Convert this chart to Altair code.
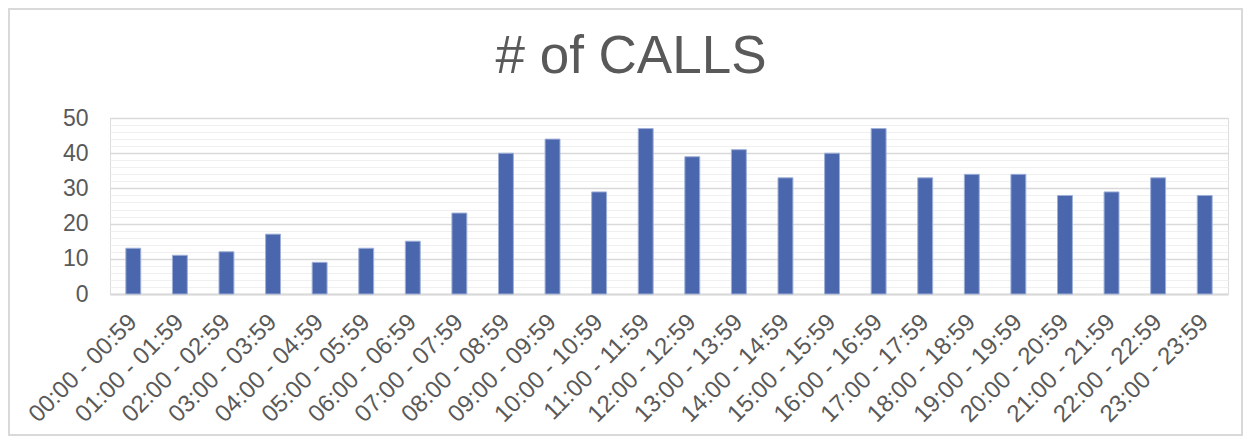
import altair as alt
import pandas as pd

hours = [
    "00:00 - 00:59", "01:00 - 01:59", "02:00 - 02:59", "03:00 - 03:59",
    "04:00 - 04:59", "05:00 - 05:59", "06:00 - 06:59", "07:00 - 07:59",
    "08:00 - 08:59", "09:00 - 09:59", "10:00 - 10:59", "11:00 - 11:59",
    "12:00 - 12:59", "13:00 - 13:59", "14:00 - 14:59", "15:00 - 15:59",
    "16:00 - 16:59", "17:00 - 17:59", "18:00 - 18:59", "19:00 - 19:59",
    "20:00 - 20:59", "21:00 - 21:59", "22:00 - 22:59", "23:00 - 23:59",
]
calls = [13, 11, 12, 17, 9, 13, 15, 23, 40, 44, 29, 47,
         39, 41, 33, 40, 47, 33, 34, 34, 28, 29, 33, 28]
major_ticks = [0, 10, 20, 30, 40, 50]
minor_ticks = [2, 4, 6, 8, 12, 14, 16, 18, 22, 24, 26, 28,
               32, 34, 36, 38, 42, 44, 46, 48]

df = pd.DataFrame({"hour": hours, "calls": calls})

W, H = 1118, 176
PAD = {"left": 102, "top": 110, "right": 15, "bottom": 142}
FONT = "Liberation Sans"
TXT = "#595959"

x_enc = alt.X(
    "hour:N", sort=hours, title=None,
    scale=alt.Scale(paddingInner=0.68, paddingOuter=0.34),
    axis=alt.Axis(labelAngle=-45, labelAlign="right", labelBaseline="middle",
                  labelPadding=24, labelFontSize=24, labelColor=TXT,
                  labelFont=FONT, ticks=False, domainColor="#d9d9d9",
                  domainWidth=2, labelOverlap=False, labelLimit=0, grid=False),
)

minor = alt.Chart(df).mark_bar(opacity=0).encode(
    x=x_enc,
    y=alt.Y("calls:Q", scale=alt.Scale(domain=[0, 50], nice=False),
            axis=alt.Axis(orient="right", values=minor_ticks, grid=True,
                          gridColor="#f0f0f0", gridWidth=1.2, labels=False,
                          ticks=False, domain=False, title=None)),
)

bars = alt.Chart(df).mark_bar(color="#4A66AC", stroke="#9fb0d8", strokeWidth=1).encode(
    x=x_enc,
    y=alt.Y("calls:Q", scale=alt.Scale(domain=[0, 50], nice=False),
            axis=alt.Axis(values=major_ticks, grid=True, gridColor="#d9d9d9",
                          gridWidth=1.5, labelFontSize=23, labelColor=TXT,
                          labelFont=FONT, labelPadding=22, ticks=False,
                          domain=False, title=None)),
)

border = alt.Chart(alt.Data(values=[{}])).mark_rect(
    filled=False, stroke="#d9d9d9", strokeWidth=2
).encode(
    x=alt.value(-PAD["left"] + 1), x2=alt.value(W + PAD["right"] - 1),
    y=alt.value(-PAD["top"] + 1), y2=alt.value(H + PAD["bottom"] - 1),
)

chart = alt.layer(minor, bars, border).resolve_scale(y="independent").properties(
    width=W, height=H,
    title=alt.TitleParams("# of CALLS", fontSize=53, font=FONT, color=TXT,
                          fontWeight="normal", anchor="middle", dx=-38,
                          baseline="alphabetic", offset=0, dy=118),
    autosize=alt.AutoSizeParams(type="none"),
    padding=PAD,
).configure_view(stroke=None).configure(background="white")

chart.save("out.html", embed_options={"renderer": "svg", "actions": False})
